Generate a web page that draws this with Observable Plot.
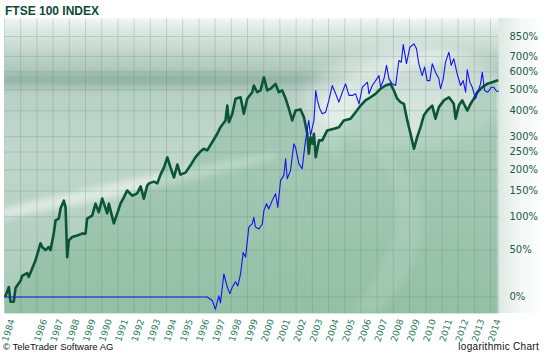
<!DOCTYPE html>
<html><head><meta charset="utf-8">
<script src="https://cdn.jsdelivr.net/npm/d3@7"></script>
<script src="https://cdn.jsdelivr.net/npm/@observablehq/plot@0.6"></script>
<style>
body{margin:0;background:#fff;}
#wrap{position:relative;width:544px;height:353px;overflow:hidden;font-family:"Liberation Sans",Arial,sans-serif;}
#chart{position:absolute;left:0;top:0;}
#title{position:absolute;left:5px;top:5px;line-height:12px;font-weight:bold;font-size:12px;color:#0d4a35;}
#copy{position:absolute;left:3px;top:342px;line-height:10px;font-size:9.5px;color:#111;}
#logn{position:absolute;right:5px;top:342px;line-height:10px;font-size:10px;color:#111;letter-spacing:0.3px;}
</style></head><body>
<div id="wrap"><div id="chart"></div>
<div id="title">FTSE 100 INDEX</div>
<div id="copy">© TeleTrader Software AG</div>
<div id="logn">logarithmic Chart</div>
</div>
<script>
// FTSE 100 index, change in % since start
const greenYear = [
 1984.06,1984.27,1984.37,1984.57,1984.68,1984.99,1985.09,1985.40,1985.50,1985.71,
 1985.91,1986.22,1986.33,1986.53,1986.73,1986.84,1987.04,1987.15,1987.35,1987.46,
 1987.66,1987.77,1987.87,1987.97,1988.18,1988.49,1988.80,1989.00,1989.10,1989.41,
 1989.62,1989.82,1990.03,1990.34,1990.44,1990.75,1990.96,1991.16,1991.36,1991.57,
 1991.88,1992.19,1992.40,1992.60,1992.81,1992.92,1993.22,1993.43,1993.63,1993.84,
 1994.05,1994.25,1994.46,1994.67,1994.86,1995.17,1995.48,1995.79,1996.06,1996.30,
 1996.51,1996.82,1997.13,1997.33,1997.64,1997.75,1997.85,1998.06,1998.26,1998.57,
 1998.77,1998.98,1999.29,1999.39,1999.60,1999.80,2000.01,2000.22,2000.42,2000.73,
 2000.93,2001.14,2001.35,2001.55,2001.76,2001.96,2002.27,2002.48,2002.69,2002.78,
 2002.89,2003.00,2003.10,2003.21,2003.41,2003.61,2003.92,2004.33,2004.64,2004.94,
 2005.36,2005.67,2005.98,2006.28,2006.59,2006.90,2007.21,2007.52,2007.83,2008.03,
 2008.24,2008.44,2008.65,2008.86,2009.06,2009.27,2009.47,2009.68,2009.88,2010.09,
 2010.40,2010.60,2010.81,2011.12,2011.43,2011.73,2011.84,2012.04,2012.25,2012.56,
 2012.77,2012.97,2013.18,2013.49,2013.80,2014.10,2014.41];
const greenPct = [
 1,9,-4,-4,8,15,20,23,19,28,
 37,59,54,50,54,50,73,94,97,115,
 130,117,41,63,68,70,73,73,97,102,
 124,108,134,106,124,89,106,124,136,151,
 140,145,160,134,162,167,171,167,188,206,
 234,206,181,214,188,193,212,235,250,260,
 255,281,310,334,360,423,353,387,455,462,
 387,455,487,522,487,496,568,496,505,531,
 487,496,456,409,360,401,406,373,310,245,
 298,276,310,235,287,287,322,328,334,360,
 367,394,423,447,462,479,505,522,531,496,
 455,439,431,360,310,260,298,334,380,401,
 423,367,416,447,462,431,367,423,447,401,
 431,455,487,513,531,540,549];
// comparison series (blue), % change
const blueYear = [
 1984.00,1996.30,1996.51,1996.82,1997.02,1997.23,1997.33,1997.54,1997.75,1997.91,
 1998.06,1998.26,1998.40,1998.57,1998.73,1998.88,1999.08,1999.29,1999.39,1999.49,
 1999.70,1999.91,2000.01,2000.17,2000.31,2000.52,2000.73,2000.87,2001.04,2001.24,
 2001.35,2001.45,2001.65,2001.86,2001.96,2002.17,2002.37,2002.58,2002.78,2002.89,
 2003.10,2003.21,2003.31,2003.46,2003.61,2003.82,2004.02,2004.23,2004.44,2004.64,
 2004.85,2005.05,2005.26,2005.47,2005.67,2005.88,2006.09,2006.40,2006.50,2006.70,
 2006.91,2007.11,2007.21,2007.42,2007.58,2007.73,2007.93,2008.14,2008.34,2008.49,
 2008.61,2008.81,2009.02,2009.27,2009.43,2009.57,2009.78,2009.93,2010.09,2010.25,
 2010.40,2010.60,2010.81,2010.91,2011.08,2011.22,2011.43,2011.57,2011.73,2011.94,
 2012.15,2012.31,2012.46,2012.56,2012.72,2012.87,2013.07,2013.28,2013.38,2013.49,
 2013.63,2013.83,2014.04,2014.20,2014.37,2014.49];
const bluePct = [
 0,0,0,-3,-10,1,-5,22,9,3,
 9,14,10,22,47,41,83,88,99,83,
 80,88,111,124,114,130,144,117,174,186,
 230,178,198,276,265,216,203,287,360,304,
 360,496,447,409,387,394,447,522,479,439,
 487,531,471,471,479,431,513,540,479,522,
 549,578,513,559,640,559,531,522,672,661,
 787,651,766,792,754,651,578,629,549,549,
 651,598,559,505,559,661,729,640,684,588,
 522,549,487,612,540,513,455,505,531,598,
 496,487,513,513,492,492];
const yTickPct = [0,50,100,150,200,250,300,400,500,600,700,850];
const gridYears = [1984,1985,1986,1987,1988,1989,1990,1991,1992,1993,1994,1995,1996,1997,1998,1999,
 2000,2001,2002,2003,2004,2005,2006,2007,2008,2009,2010,2011,2012,2013,2014];
const xLabelYears = [1984,1986,1987,1988,1989,1990,1991,1992,1993,1994,1995,1996,1997,1998,1999,
 2000,2001,2002,2003,2004,2005,2006,2007,2008,2009,2010,2011,2012,2013,2014];

const green = greenYear.map((t,i)=>({t, v:1+greenPct[i]/100}));
const blue = blueYear.map((t,i)=>({t, v:1+bluePct[i]/100}));
const yMin = 0.8671, yMax = 11.10;

const chart = Plot.plot({
  width:544, height:353, marginTop:18, marginBottom:40, marginLeft:4, marginRight:46,
  style:{background:"transparent", fontFamily:"'DejaVu Sans', Verdana, sans-serif", fontSize:"10px"},
  x:{type:"linear", domain:[1984, 2014.49], axis:null},
  y:{type:"log", domain:[yMin, yMax], axis:null},
  marks:[
    Plot.frame({fill:"url(#bgGrad)", stroke:null}),
    Plot.areaY(green, {x:"t", y1:yMin, y2:"v", fill:"#5fa77a", fillOpacity:0.28}),
    Plot.ruleX(gridYears, {x:d=>d, stroke:"#3f7f64", strokeOpacity:0.22, strokeWidth:1}),
    Plot.ruleY(yTickPct, {y:p=>1+p/100, stroke:"#3f7f64", strokeOpacity:0.22, strokeWidth:1}),
    Plot.lineY(green, {x:"t", y:"v", stroke:"#0b5438", strokeWidth:2.6, strokeLinejoin:"round"}),
    Plot.lineY(blue, {x:"t", y:"v", stroke:"#1414f0", strokeWidth:1.1}),
    Plot.text(yTickPct, {y:p=>1+p/100, text:p=>p+"%", frameAnchor:"right", textAnchor:"start", dx:11,
      fill:"#1e5a44", fontSize:10}),
    Plot.text(xLabelYears, {x:d=>d, text:d=>String(d), frameAnchor:"bottom", rotate:-72, textAnchor:"end",
      lineAnchor:"middle", dx:7.5, dy:6, fill:"#2b7a56", fontSize:9})
  ]
});
document.getElementById("chart").appendChild(chart);

const svg = d3.select(chart);
const defs = svg.insert("defs", ":first-child");
const bg = defs.append("linearGradient").attr("id","bgGrad").attr("x1",0).attr("y1",0).attr("x2",0).attr("y2",1);
[[0,"#f0f5f3"],[0.05,"#d8e6e0"],[0.14,"#b9cfc6"],[0.2,"#a8c3b8"],[0.27,"#bad1c8"],[0.45,"#c0d6cc"],[0.7,"#b6d1c3"],[1,"#a9cab6"]]
  .forEach(([o,c])=>bg.append("stop").attr("offset",o).attr("stop-color",c));
const rg = defs.append("linearGradient").attr("id","rightGrad").attr("x1",0).attr("y1",0).attr("x2",1).attr("y2",0);
[[0,"#dde8e3"],[0.5,"#f4f8f6"],[1,"#ffffff"]].forEach(([o,c])=>rg.append("stop").attr("offset",o).attr("stop-color",c));
defs.append("filter").attr("id","blur8").attr("x","-50%").attr("y","-50%").attr("width","200%").attr("height","200%")
  .append("feGaussianBlur").attr("stdDeviation",8);
defs.append("filter").attr("id","blur3").attr("x","-50%").attr("y","-50%").attr("width","200%").attr("height","200%")
  .append("feGaussianBlur").attr("stdDeviation",3);

const xs = chart.scale("x"), ys = chart.scale("y");
const L = xs.range[0], R = xs.range[1], T = ys.range[1], B = ys.range[0];
defs.append("clipPath").attr("id","plotClip").append("rect").attr("x",L).attr("y",T).attr("width",R-L).attr("height",B-T);
// right margin shading
svg.insert("rect", "defs + *").attr("x",R).attr("y",T).attr("width",544-R).attr("height",B-T).attr("fill","url(#rightGrad)");

// decorative glare
const frameEl = svg.select("[aria-label=frame]").node();
const deco = document.createElementNS("http://www.w3.org/2000/svg","g");
frameEl.parentNode.insertBefore(deco, frameEl.nextSibling);
const g = d3.select(deco).attr("clip-path","url(#plotClip)");
g.append("ellipse").attr("cx",L+150).attr("cy",T+62).attr("rx",240).attr("ry",6).attr("fill","#7a9f92").attr("opacity",0.45).attr("filter","url(#blur3)");
g.append("ellipse").attr("cx",L+110).attr("cy",T+172).attr("rx",170).attr("ry",7).attr("transform",`rotate(-12 ${L+110} ${T+172})`).attr("fill","#ffffff").attr("opacity",0.5).attr("filter","url(#blur3)");
g.append("ellipse").attr("cx",R-90).attr("cy",T+80).attr("rx",100).attr("ry",50).attr("fill","#ffffff").attr("opacity",0.4).attr("filter","url(#blur8)");
g.append("path").attr("d",`M${R-190},${T+120} C${R-180},${T+40} ${R-60},${T+20} ${R-20},${T+40} C${R-90},${T+40} ${R-150},${T+70} ${R-160},${T+140} Z`)
  .attr("fill","#ffffff").attr("opacity",0.3).attr("filter","url(#blur3)");
g.append("path").attr("d",`M${R-120},${B} C${R-60},${B-60} ${R-60},${B-140} ${R-130},${B-170} C${R-90},${B-130} ${R-90},${B-60} ${R-150},${B} Z`)
  .attr("fill","#ffffff").attr("opacity",0.18).attr("filter","url(#blur3)");
</script>
</body></html>
